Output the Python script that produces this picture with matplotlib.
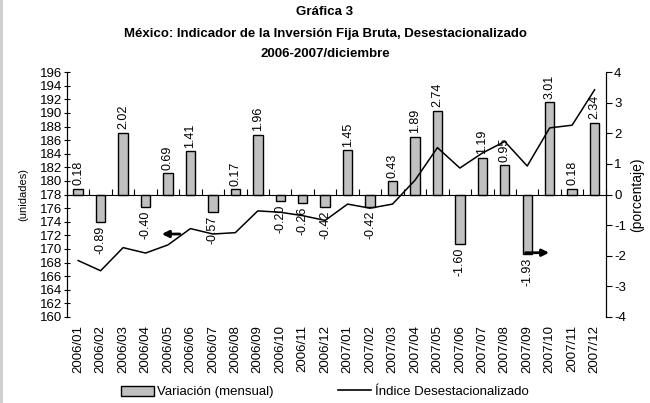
import matplotlib
matplotlib.use("Agg")
import matplotlib.pyplot as plt
from matplotlib.patches import Rectangle, Patch
from matplotlib.lines import Line2D
import numpy as np

plt.rcParams['font.family'] = ['Liberation Sans', 'DejaVu Sans']
plt.rcParams['axes.unicode_minus'] = False

months = ["2006/01", "2006/02", "2006/03", "2006/04", "2006/05", "2006/06",
          "2006/07", "2006/08", "2006/09", "2006/10", "2006/11", "2006/12",
          "2007/01", "2007/02", "2007/03", "2007/04", "2007/05", "2007/06",
          "2007/07", "2007/08", "2007/09", "2007/10", "2007/11", "2007/12"]
variacion = [0.18, -0.89, 2.02, -0.40, 0.69, 1.41, -0.57, 0.17, 1.96, -0.20, -0.26, -0.42,
             1.45, -0.42, 0.43, 1.89, 2.74, -1.60, 1.19, 0.95, -1.93, 3.01, 0.18, 2.34]
indice = [168.3, 166.8, 170.2, 169.4, 170.6, 173.0, 172.2, 172.4, 175.6, 175.4, 174.9, 174.2,
          176.6, 176.0, 176.6, 180.1, 184.9, 181.9, 184.1, 185.8, 182.2, 187.8, 188.2, 193.4]

fig = plt.figure(figsize=(6.5, 4.03), dpi=100)
fig.patches.append(Rectangle((0, 0), 3 / 650, 1, transform=fig.transFigure,
                             facecolor='#d0d0d0', edgecolor='none'))

ax = fig.add_axes([0.103, 0.2134, 0.829, 0.6076])
ax2 = ax.twinx()
x = np.arange(len(months))

# bars on percentage axis
ax2.bar(x, variacion, width=0.42, color='#c0c0c0', edgecolor='black', linewidth=1.0, zorder=2)
for xi, v in zip(x, variacion):
    if v >= 0:
        ax2.text(xi, v + 0.12, f"{v:.2f}", rotation=90, ha='center', va='bottom', fontsize=9)
    else:
        ax2.text(xi, v - 0.12, f"{v:.2f}", rotation=90, ha='center', va='top', fontsize=9)
ax2.set_ylim(-4, 4)
ax2.set_yticks(range(-4, 5))
ax2.tick_params(axis='y', direction='out', length=4, labelsize=9.5, pad=2)
ax2.set_ylabel("(porcentaje)", fontsize=10, labelpad=3)

# line on index axis
ax.plot(x, indice, color='black', linewidth=1.1, zorder=3)
ax.set_ylim(160, 196)
ax.set_yticks(range(160, 197, 2))
ax.tick_params(axis='y', direction='inout', length=5, labelsize=9.5, pad=1)
ax.set_ylabel("(unidades)", fontsize=8, labelpad=8)
ax.set_xlim(-0.5, len(months) - 0.5)
ax.set_xticks(x)
ax.set_xticklabels(months, rotation=90, fontsize=9.5)
ax.tick_params(axis='x', length=0, pad=6)

ax.spines['top'].set_visible(False)
ax.spines['bottom'].set_visible(False)
ax2.spines['top'].set_visible(False)
ax2.spines['bottom'].set_visible(False)
ax2.set_zorder(ax.get_zorder() - 1)
ax.patch.set_visible(False)

# zero axis line with category ticks
sec = ax.secondary_xaxis(0.5)
sec.set_xticks(np.arange(-0.5, len(months) + 0.5, 1.0))
sec.set_xticklabels([])
sec.tick_params(axis='x', direction='out', length=4, width=0.8)
sec.spines['bottom'].set_linewidth(0.8)

# arrows indicating axes
ax.annotate("", xy=(3.6, 172.2), xytext=(4.65, 172.2),
            arrowprops=dict(arrowstyle='-|>', color='black', lw=2, mutation_scale=10), zorder=5)
ax2.annotate("", xy=(21.1, -1.9), xytext=(19.8, -1.9),
             arrowprops=dict(arrowstyle='-|>', color='black', lw=2, mutation_scale=10), zorder=5)

fig.text(0.5, 0.985, "Gráfica 3", ha='center', va='top', fontsize=9.5, fontweight='bold')
fig.text(0.5, 0.930, "México: Indicador de la Inversión Fija Bruta, Desestacionalizado",
         ha='center', va='top', fontsize=9.5, fontweight='bold')
fig.text(0.5, 0.880, "2006-2007/diciembre", ha='center', va='top', fontsize=9.5, fontweight='bold')

handles = [Patch(facecolor='#c0c0c0', edgecolor='black', linewidth=1.0),
           Line2D([0], [0], color='black', linewidth=1.2)]
fig.legend(handles, ["Variación (mensual)", "Índice Desestacionalizado"], loc='lower left',
           bbox_to_anchor=(121 / 650, 0.012), ncol=2, frameon=False, fontsize=9.5,
           borderpad=0, borderaxespad=0,
           handlelength=2.5, handletextpad=0.25, columnspacing=4.9, handleheight=0.8)

fig.savefig("out.png", dpi=100)
